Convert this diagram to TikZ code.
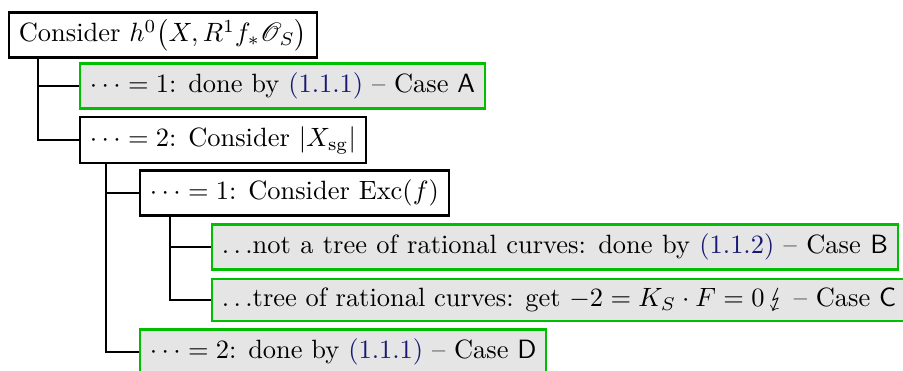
\documentclass[tikz,border=0pt]{standalone}
\usepackage{mathrsfs}
\usepackage{stmaryrd}
\usetikzlibrary{calc}
\definecolor{refblue}{rgb}{0.1,0.1,0.45}
\definecolor{okgreen}{rgb}{0,0.75,0}
\newcommand{\myref}[1]{\textcolor{refblue}{(#1)}}
\newcommand{\widesp}{\spaceskip=3.55pt plus 1pt minus 0.5pt\relax}
\newcommand{\tightsp}{\spaceskip=3.3pt plus 1pt minus 0.5pt\relax}
\begin{document}
\begin{tikzpicture}[x=0.378pt,y=-0.378pt,
  box/.style={draw,line width=0.8pt,anchor=west,inner xsep=3.7pt,inner ysep=3.5pt,fill=white},
  donebox/.style={box,draw=okgreen,fill=black!10},
  conn/.style={line width=0.45pt}]
\useasboundingbox (0,0) rectangle (903,370);
\node[box,inner ysep=2.5pt] (r) at (8,35) {Consider $h^0\bigl(X,R^1f_*\mathscr{O}_S\bigr)$};
\node[donebox] (a) at (79,86) {$\cdots=1$: done by \myref{1.1.1} -- Case \textsf{A}};
\node[box] (x) at (79,140) {$\cdots=2$: Consider $|X_{\mathrm{sg}}|$};
\node[box] (e) at (139,193) {$\cdots=1$: Consider $\mathrm{Exc}(f)$};
\node[donebox] (b) at (211,247) {\widesp$\ldots$not a tree of rational curves: done by \myref{1.1.2} -- Case \textsf{B}};
\node[donebox] (c) at (211,300) {\tightsp$\ldots$tree of rational curves: get $-2=K_S\cdot F=0$\,$\lightning$ -- Case \textsf{C}};
\node[donebox] (d) at (139,352) {$\cdots=2$: done by \myref{1.1.1} -- Case \textsf{D}};
\draw[conn] ($(r.south west)+(30,0)$) |- (a.west);
\draw[conn] ($(r.south west)+(30,0)$) |- (x.west);
\draw[conn] ($(x.south west)+(27,0)$) |- (e.west);
\draw[conn] ($(x.south west)+(27,0)$) |- (d.west);
\draw[conn] ($(e.south west)+(31,0)$) |- (b.west);
\draw[conn] ($(e.south west)+(31,0)$) |- (c.west);
\end{tikzpicture}
\end{document}
